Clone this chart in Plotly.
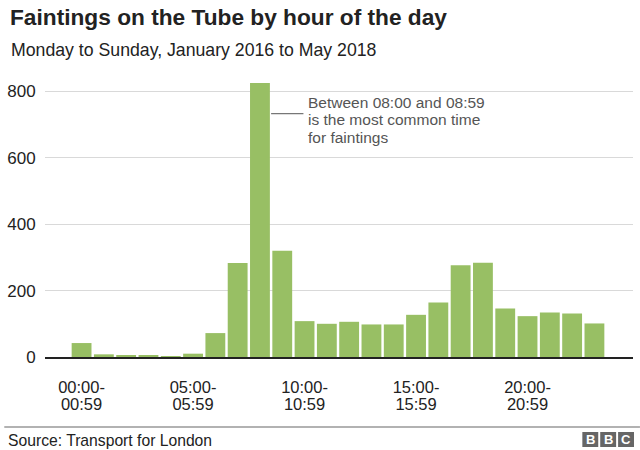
import plotly.graph_objects as go

hours = list(range(24))
faintings = [42, 8, 5, 4, 1, 10, 72, 283, 825, 320, 108, 100, 106, 98, 98, 127,
             164, 276, 284, 146, 123, 134, 131, 101]
tick_hours = [0, 5, 10, 15, 20]
tick_line1 = ["00:00-", "05:00-", "10:00-", "15:00-", "20:00-"]
tick_line2 = ["00:59", "05:59", "10:59", "15:59", "20:59"]
y_ticks = [0, 200, 400, 600, 800]

title = "Faintings on the Tube by hour of the day"
subtitle = "Monday to Sunday, January 2016 to May 2018"
note_lines = ["Between 08:00 and 08:59", "is the most common time", "for faintings"]
source = "Source: Transport for London"

W, H = 640, 450
L, R, T, B = 41, 633, 78, 357
XR = [-1.64, 24.73]
YR = [0, 840]

def px(x):
    return (x - L) / (R - L)

def py(y):
    return (B - y) / (B - T)

FONT = "Liberation Sans, Arial, sans-serif"
GREEN = "#98bf64"

fig = go.Figure()
fig.add_trace(go.Bar(x=hours, y=faintings, marker=dict(color=GREEN, line=dict(width=0)),
                     hoverinfo="skip"))

fig.update_layout(
    width=W, height=H,
    margin=dict(l=L, r=W - R, t=T, b=H - B, pad=0),
    paper_bgcolor="white", plot_bgcolor="white",
    showlegend=False, bargap=0.11,
    font=dict(family=FONT, color="#222222"),
    xaxis=dict(range=XR, tickmode="array", tickvals=tick_hours, ticktext=tick_line1,
               showgrid=False, zeroline=False, showline=True, linecolor="#222222",
               linewidth=2, ticks="outside", ticklen=14, tickcolor="rgba(0,0,0,0)",
               tickfont=dict(size=16.5, color="#222222")),
    xaxis2=dict(range=XR, overlaying="x", anchor="y", side="bottom", matches="x",
                tickmode="array", tickvals=tick_hours, ticktext=tick_line2,
                showgrid=False, zeroline=False, showline=False,
                ticks="outside", ticklen=32, tickcolor="rgba(0,0,0,0)",
                tickfont=dict(size=16.5, color="#222222")),
    yaxis=dict(range=YR, tickmode="array", tickvals=y_ticks, showgrid=True,
               gridcolor="#d9d9d9", gridwidth=1, zeroline=False, showline=False,
               ticks="outside", ticklen=5, tickcolor="rgba(0,0,0,0)",
               tickfont=dict(size=17, color="#222222")),
)
# invisible trace so xaxis2 renders
fig.add_trace(go.Scatter(x=[0], y=[0], xaxis="x2", mode="markers",
                         marker=dict(opacity=0), hoverinfo="skip"))

ann = []
ann.append(dict(text="<b>" + title + "</b>", x=px(4), y=py(17), xref="paper", yref="paper",
                xanchor="left", yanchor="middle", showarrow=False,
                font=dict(size=22.7, color="#222222", family=FONT)))
ann.append(dict(text=subtitle, x=px(5), y=py(50), xref="paper", yref="paper",
                xanchor="left", yanchor="middle", showarrow=False,
                font=dict(size=17.7, color="#222222", family=FONT)))
for i, line in enumerate(note_lines):
    ann.append(dict(text=line, x=10.05, y=py(102 + 17.5 * i), xref="x", yref="paper",
                    xanchor="left", yanchor="middle", showarrow=False,
                    font=dict(size=15.5, color="#555555", family=FONT)))
ann.append(dict(text=source, x=px(2), y=py(440), xref="paper", yref="paper",
                xanchor="left", yanchor="middle", showarrow=False,
                font=dict(size=15.7, color="#222222", family=FONT)))
logo_x = [582, 600, 618]
for lx, letter in zip(logo_x, ["B", "B", "C"]):
    fig.add_shape(type="rect", xref="paper", yref="paper",
                  x0=px(lx), x1=px(lx + 16), y0=py(447), y1=py(432),
                  fillcolor="#666666", line=dict(width=0))
    ann.append(dict(text="<b>" + letter + "</b>", x=px(lx + 8), y=py(439.5), xref="paper",
                    yref="paper", xanchor="center", yanchor="middle", showarrow=False,
                    font=dict(size=13, color="white", family=FONT)))
fig.update_layout(annotations=ann)

# pointer line from the peak bar to the note
fig.add_shape(type="line", xref="x", yref="y", x0=8.5, x1=9.95, y0=733, y1=733,
              line=dict(color="#777777", width=1.2))
# footer separator
fig.add_shape(type="line", xref="paper", yref="paper", x0=px(0), x1=px(640),
              y0=py(427), y1=py(427), line=dict(color="#999999", width=1.5))

fig.write_html("out.html")
